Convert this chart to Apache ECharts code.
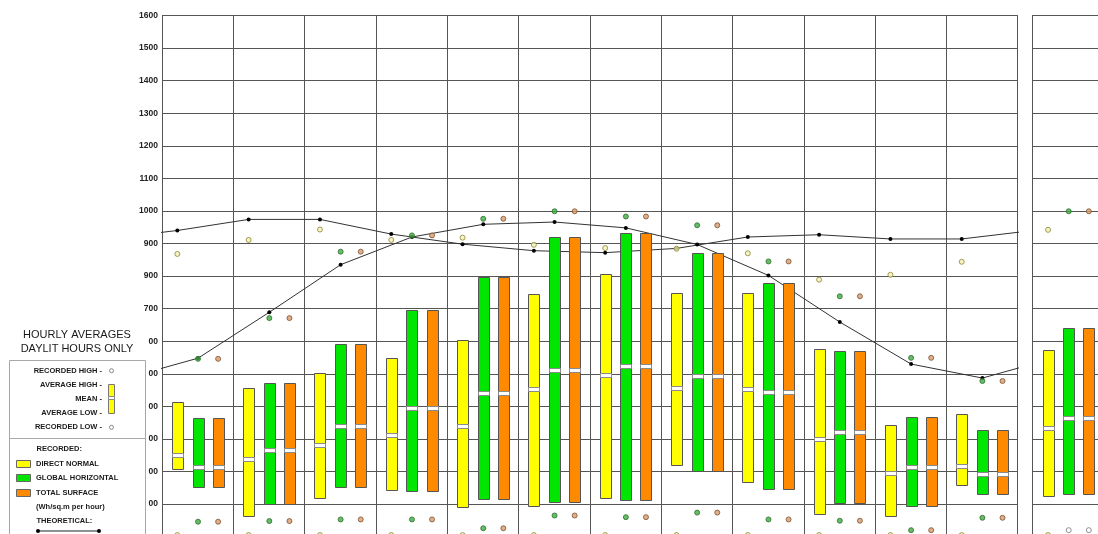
<!DOCTYPE html>
<html>
<head>
<meta charset="utf-8">
<script src="https://cdn.jsdelivr.net/npm/echarts@6/dist/echarts.min.js"></script>
<style>
  html, body { margin: 0; padding: 0; background: #fff; }
  #chart { width: 1098px; height: 534px; }
</style>
</head>
<body>
<div id="chart"></div>
<script>
// Periods: twelve months plus the whole-year column on the right
const periods = ['Jan','Feb','Mar','Apr','May','Jun','Jul','Aug','Sep','Oct','Nov','Dec','Year'];

// Direct normal radiation (Wh/sq.m per hour)
const dnAvgHigh = [414, 457, 504, 550, 604, 746, 806, 749, 749, 575, 343, 376, 574];
const dnMean    = [252, 239, 283, 311, 341, 452, 497, 458, 453, 300, 197, 218, 334];
const dnAvgLow  = [208,  64, 120, 144,  90,  95, 120, 221, 167,  70,  64, 160, 126];
const dnRecHigh = [868, 911, 943, 911, 918, 896, 886, 884, 870, 789, 804, 844, 942];
const dnRecLow  = [  5,   5,   5,   5,   5,   5,   5,   5,   5,   5,   5,   5,   5];

// Global horizontal radiation
const ghAvgHigh = [365, 471, 593, 695, 798, 920, 933, 872, 778, 571, 368, 328, 642];
const ghMean    = [213, 266, 341, 394, 442, 513, 525, 493, 445, 322, 215, 191, 365];
const ghAvgLow  = [154, 100, 153, 141, 115, 106, 114, 203, 146, 103,  94, 132, 132];
const ghRecHigh = [546, 671, 875, 925, 976, 999, 983, 956, 845, 738, 549, 478, 999];
const ghRecLow  = [ 46,  48,  53,  53,  26,  65,  60,  74,  53,  49,  20,  58,  20];

// Total surface radiation
const tsAvgHigh = [365, 471, 593, 695, 798, 920, 933, 872, 778, 571, 368, 328, 642];
const tsMean    = [213, 266, 341, 394, 442, 513, 525, 493, 445, 322, 215, 191, 365];
const tsAvgLow  = [154, 100, 153, 141, 115, 106, 114, 203, 146, 103,  94, 132, 132];
const tsRecHigh = [546, 671, 875, 925, 976, 999, 983, 956, 845, 738, 549, 478, 999];
const tsRecLow  = [ 46,  48,  53,  53,  26,  65,  60,  74,  53,  49,  20,  58,  20];

// Theoretical clear-sky values (monthly)
const thDirectNormal = [940, 974, 974, 929, 898, 878, 872, 885, 920, 927, 914, 914];
const thGlobalHoriz  = [548, 689, 835, 920, 959, 966, 948, 897, 802, 659, 530, 487];

// Y axis ticks and the text printed beside them
const yTicks      = [0, 100, 200, 300, 400, 500, 600, 700, 800, 900, 1000, 1100, 1200, 1300, 1400, 1500, 1600];
const yTickLabels = ['', '00', '00', '00', '00', '00', '00', '700', '900', '900', '1000', '1100', '1200', '1300', '1400', '1500', '1600'];

// ---- layout / style ----
const OFF = { dn: 0.215, gh: 0.505, ts: 0.787 };   // slot centres inside a month column
const BAR_W = 0.161;                               // bar width in month units
const COLORS = { dn: '#ffff00', gh: '#00e600', ts: '#ff8a00' };
const DOT = {
  dn: { color: '#f4f0b8', borderColor: '#8a8434' },
  gh: { color: '#3fae3f', borderColor: '#2f6a2f' },
  ts: { color: '#d89a6a', borderColor: '#7a5232' }
};
const GRID_COLOR = '#555';
const FONT = '"Liberation Sans", Arial, Helvetica, sans-serif';
const TOP = 15.5, PLOT_H = 521.2;

const monthIdx = periods.slice(0, 12).map((_, i) => i);
const yearIdx = 12;

function boxRender(color) {
  return function (params, api) {
    const x = api.value(0);
    const pHi = api.coord([x, api.value(2)]);
    const pLo = api.coord([x, api.value(1)]);
    const pMean = api.coord([x, api.value(3)]);
    const w = Math.round(api.size([BAR_W, 0])[0]);
    const left = Math.round(pHi[0] - w / 2) + 0.5;
    const top = Math.round(pHi[1]) + 0.5;
    const bot = Math.round(pLo[1]) + 0.5;
    const my = Math.round(pMean[1]) + 0.5;
    return {
      type: 'group',
      children: [
        { type: 'rect', shape: { x: left, y: top, width: w, height: bot - top },
          style: { fill: color, stroke: '#555', lineWidth: 1 } },
        { type: 'rect', shape: { x: left, y: my - 2, width: w, height: 4 },
          style: { fill: '#ffffff', stroke: '#8a8a8a', lineWidth: 1 } }
      ]
    };
  };
}

function boxSeries(key, lo, hi, mean, idxList, base, axis) {
  return {
    type: 'custom',
    xAxisIndex: axis, yAxisIndex: axis,
    renderItem: boxRender(COLORS[key]),
    data: idxList.map(i => ({ name: periods[i], value: [i - base + OFF[key], lo[i], hi[i], mean[i]] })),
    z: 3
  };
}

function dotSeries(key, vals, idxList, base, axis, plain) {
  return {
    type: 'scatter',
    xAxisIndex: axis, yAxisIndex: axis,
    symbol: 'circle', symbolSize: 5,
    itemStyle: plain ? { color: '#ffffff', borderColor: '#777', borderWidth: 1 }
                     : { color: DOT[key].color, borderColor: DOT[key].borderColor, borderWidth: 1 },
    data: idxList.map(i => ({ name: periods[i], value: [i - base + OFF[key], vals[i]] })),
    z: 5
  };
}

function theorySeries(vals, off) {
  // wrap Dec before Jan and Jan after Dec so the curve runs to the column edges
  const pts = [[-1 + off, vals[11]]]
    .concat(vals.map((v, i) => [i + off, v]))
    .concat([[12 + off, vals[0]]]);
  return {
    type: 'line',
    xAxisIndex: 0, yAxisIndex: 0,
    clip: true,
    data: pts,
    symbol: 'circle', symbolSize: 4,
    lineStyle: { color: '#333', width: 1 },
    itemStyle: { color: '#000' },
    z: 2
  };
}

const yAxisBase = {
  type: 'value', min: 0, max: 1600, interval: 100,
  axisTick: { show: false },
  splitLine: { show: true, lineStyle: { color: GRID_COLOR, width: 1 } }
};

const series = [
  theorySeries(thDirectNormal, OFF.dn),
  theorySeries(thGlobalHoriz, OFF.gh),
  boxSeries('dn', dnAvgLow, dnAvgHigh, dnMean, monthIdx, 0, 0),
  boxSeries('gh', ghAvgLow, ghAvgHigh, ghMean, monthIdx, 0, 0),
  boxSeries('ts', tsAvgLow, tsAvgHigh, tsMean, monthIdx, 0, 0),
  dotSeries('dn', dnRecHigh, monthIdx, 0, 0),
  dotSeries('dn', dnRecLow, monthIdx, 0, 0),
  dotSeries('gh', ghRecHigh, monthIdx, 0, 0),
  dotSeries('gh', ghRecLow, monthIdx, 0, 0),
  dotSeries('ts', tsRecHigh, monthIdx, 0, 0),
  dotSeries('ts', tsRecLow, monthIdx, 0, 0),
  // whole-year column
  boxSeries('dn', dnAvgLow, dnAvgHigh, dnMean, [yearIdx], yearIdx, 1),
  boxSeries('gh', ghAvgLow, ghAvgHigh, ghMean, [yearIdx], yearIdx, 1),
  boxSeries('ts', tsAvgLow, tsAvgHigh, tsMean, [yearIdx], yearIdx, 1),
  dotSeries('dn', dnRecHigh, [yearIdx], yearIdx, 1),
  dotSeries('dn', dnRecLow, [yearIdx], yearIdx, 1),
  dotSeries('gh', ghRecHigh, [yearIdx], yearIdx, 1),
  dotSeries('gh', ghRecLow, [yearIdx], yearIdx, 1, true),
  dotSeries('ts', tsRecHigh, [yearIdx], yearIdx, 1),
  dotSeries('ts', tsRecLow, [yearIdx], yearIdx, 1, true)
];

// ---- side legend panel ----
const B = 'bold 7.5px ' + FONT;
function txt(text, x, y, align, font) {
  return { type: 'text', x: x, y: y, z: 100,
    style: { text: text, fill: '#1a1a1a', font: font || B, align: align || 'left', verticalAlign: 'middle' } };
}
const graphics = [
  { type: 'rect', z: 90, shape: { x: 9.5, y: 360.5, width: 136, height: 200 },
    style: { fill: '#fff', stroke: '#a8a8a8', lineWidth: 1 } },
  { type: 'line', z: 91, shape: { x1: 9.5, y1: 438.5, x2: 145.5, y2: 438.5 },
    style: { stroke: '#a8a8a8', lineWidth: 1 } },
  txt('HOURLY AVERAGES', 77, 335, 'center', '11px ' + FONT),
  txt('DAYLIT HOURS ONLY', 77, 348.7, 'center', '11px ' + FONT),
  txt('RECORDED HIGH -', 102, 370.7, 'right'),
  txt('AVERAGE HIGH -', 102, 384.5, 'right'),
  txt('MEAN -', 102, 398.7, 'right'),
  txt('AVERAGE LOW -', 102, 412.7, 'right'),
  txt('RECORDED LOW -', 102, 427.3, 'right'),
  { type: 'circle', z: 100, shape: { cx: 111.5, cy: 370.7, r: 2 }, style: { fill: '#fff', stroke: '#888', lineWidth: 1 } },
  { type: 'circle', z: 100, shape: { cx: 111.5, cy: 427.3, r: 2 }, style: { fill: '#fff', stroke: '#888', lineWidth: 1 } },
  { type: 'rect', z: 100, shape: { x: 108.5, y: 384.5, width: 6, height: 29 }, style: { fill: COLORS.dn, stroke: '#777', lineWidth: 1 } },
  { type: 'rect', z: 101, shape: { x: 108.5, y: 396.5, width: 6, height: 3 }, style: { fill: '#fff', stroke: '#888', lineWidth: 1 } },
  txt('RECORDED:', 36.5, 449),
  { type: 'rect', z: 100, shape: { x: 16.5, y: 460.5, width: 14, height: 7 }, style: { fill: COLORS.dn, stroke: '#666', lineWidth: 1 } },
  txt('DIRECT NORMAL', 36, 463.7),
  { type: 'rect', z: 100, shape: { x: 16.5, y: 474.5, width: 14, height: 7 }, style: { fill: COLORS.gh, stroke: '#666', lineWidth: 1 } },
  txt('GLOBAL HORIZONTAL', 36, 477.9),
  { type: 'rect', z: 100, shape: { x: 16.5, y: 489.5, width: 14, height: 7 }, style: { fill: COLORS.ts, stroke: '#666', lineWidth: 1 } },
  txt('TOTAL SURFACE', 36, 492.5),
  txt('(Wh/sq.m per hour)', 36, 506.7),
  txt('THEORETICAL:', 36.5, 521),
  { type: 'line', z: 100, shape: { x1: 38, y1: 531, x2: 99, y2: 531 }, style: { stroke: '#222', lineWidth: 1 } },
  { type: 'circle', z: 101, shape: { cx: 38, cy: 531, r: 2 }, style: { fill: '#000' } },
  { type: 'circle', z: 101, shape: { cx: 99, cy: 531, r: 2 }, style: { fill: '#000' } }
];

const option = {
  animation: false,
  backgroundColor: '#fff',
  grid: [
    { left: 162, top: TOP, width: 855.7, height: PLOT_H, outerBoundsMode: 'none', containLabel: false },
    { left: 1032.7, top: TOP, width: 71.31, height: PLOT_H, outerBoundsMode: 'none', containLabel: false }
  ],
  xAxis: [
    { type: 'value', gridIndex: 0, min: 0, max: 12, interval: 1,
      axisLine: { show: false }, axisTick: { show: false }, axisLabel: { show: false },
      splitLine: { show: true, lineStyle: { color: GRID_COLOR, width: 1 } } },
    { type: 'value', gridIndex: 1, min: 0, max: 1, interval: 1,
      axisLine: { show: false }, axisTick: { show: false }, axisLabel: { show: false },
      splitLine: { show: true, lineStyle: { color: GRID_COLOR, width: 1 } } }
  ],
  yAxis: [
    Object.assign({}, yAxisBase, {
      gridIndex: 0,
      axisLine: { show: true, lineStyle: { color: GRID_COLOR, width: 1 } },
      axisLabel: {
        show: true, margin: 4, color: '#222', fontSize: 8.5, fontWeight: 'bold', fontFamily: FONT,
        formatter: v => { const k = yTicks.indexOf(v); return k >= 0 ? yTickLabels[k] : ''; }
      }
    }),
    Object.assign({}, yAxisBase, {
      gridIndex: 1,
      axisLine: { show: true, lineStyle: { color: GRID_COLOR, width: 1 } },
      axisLabel: { show: false }
    })
  ],
  graphic: graphics,
  series: series
};

const chart = echarts.init(document.getElementById('chart'), null, { renderer: 'canvas' });
chart.setOption(option);
</script>
</body>
</html>
